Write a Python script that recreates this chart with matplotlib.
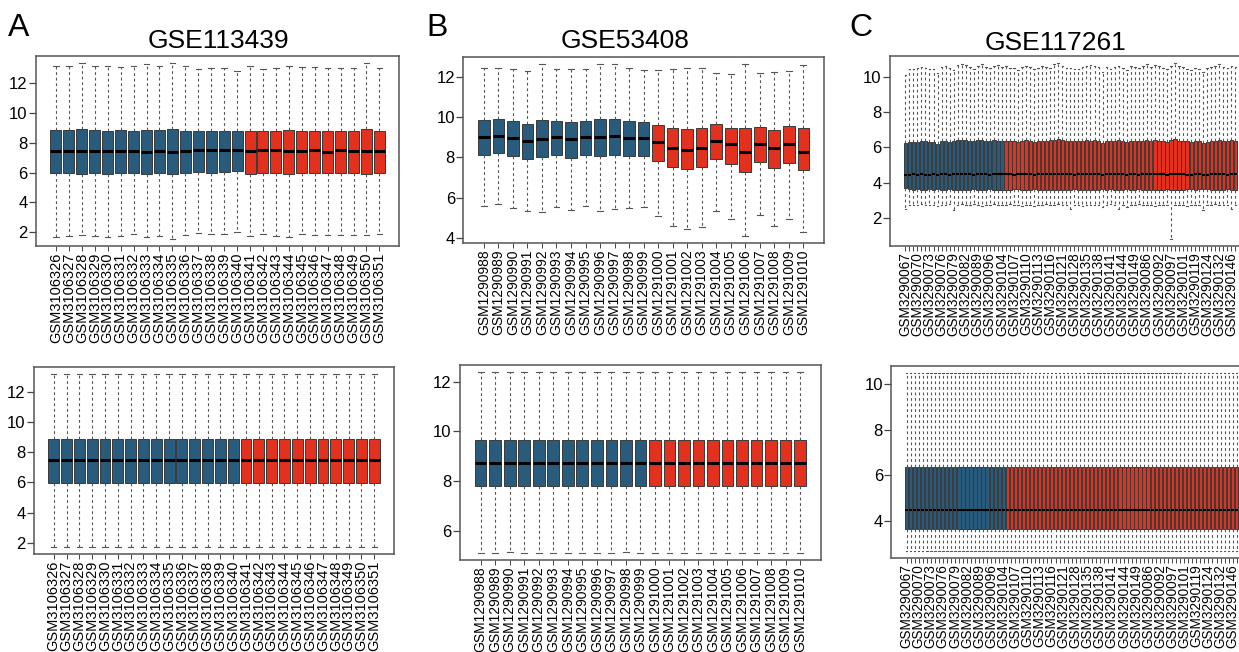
import matplotlib.pyplot as plt

plt.rcParams['font.family'] = ['Liberation Sans', 'DejaVu Sans']

BLUE = '#285b7c'
RED = '#e2311f'

# ---------------- A: GSE113439 (15 control, 11 case) ----------------
a_names = ['GSM3106326', 'GSM3106327', 'GSM3106328', 'GSM3106329', 'GSM3106330',
           'GSM3106331', 'GSM3106332', 'GSM3106333', 'GSM3106334', 'GSM3106335',
           'GSM3106336', 'GSM3106337', 'GSM3106338', 'GSM3106339', 'GSM3106340',
           'GSM3106341', 'GSM3106342', 'GSM3106343', 'GSM3106344', 'GSM3106345',
           'GSM3106346', 'GSM3106347', 'GSM3106348', 'GSM3106349', 'GSM3106350',
           'GSM3106351']
a_ctrl = 15
a_hi = [13.19, 13.16, 13.34, 13.14, 13.14, 13.10, 13.14, 13.30, 13.19, 13.36, 13.14, 12.94, 13.00,
        13.03, 12.85, 13.14, 12.94, 13.03, 13.19, 13.07, 13.07, 13.05, 13.05, 13.05, 13.34, 13.05]
a_q3 = [8.87, 8.87, 8.91, 8.85, 8.82, 8.85, 8.82, 8.89, 8.89, 8.94, 8.82, 8.78, 8.82,
        8.82, 8.78, 8.82, 8.78, 8.80, 8.85, 8.82, 8.82, 8.78, 8.82, 8.80, 8.91, 8.80]
a_med = [7.46, 7.46, 7.46, 7.46, 7.46, 7.46, 7.48, 7.41, 7.46, 7.41, 7.46, 7.53, 7.53,
         7.51, 7.53, 7.46, 7.51, 7.50, 7.46, 7.48, 7.50, 7.41, 7.53, 7.48, 7.46, 7.46]
a_q1 = [5.96, 5.98, 5.91, 5.96, 5.94, 5.96, 5.98, 5.91, 5.96, 5.94, 5.98, 6.05, 6.00,
        6.03, 6.09, 5.94, 6.00, 5.96, 5.94, 6.00, 5.98, 5.96, 5.98, 6.00, 5.91, 6.00]
a_lo = [1.71, 1.75, 1.80, 1.73, 1.66, 1.78, 1.87, 1.69, 1.73, 1.55, 1.80, 1.93, 1.87,
        1.87, 2.00, 1.78, 1.89, 1.75, 1.69, 1.87, 1.82, 1.80, 1.80, 1.80, 1.80, 1.87]
# normalized
a_norm_hi = [13.14] * 26
a_norm_q3 = [8.84] * 26
a_norm_med = [7.45] * 26
a_norm_q1 = [5.96] * 26
a_norm_lo = [1.74, 1.70, 1.74, 1.74, 1.70, 1.74, 1.74, 1.74, 1.74, 1.74, 1.74, 1.70, 1.74,
             1.74, 1.74, 1.74, 1.74, 1.70, 1.74, 1.74, 1.74, 1.74, 1.74, 1.74, 1.70, 1.74]

# ---------------- B: GSE53408 (12 control, 11 case) ----------------
b_names = ['GSM1290988', 'GSM1290989', 'GSM1290990', 'GSM1290991', 'GSM1290992',
           'GSM1290993', 'GSM1290994', 'GSM1290995', 'GSM1290996', 'GSM1290997',
           'GSM1290998', 'GSM1290999', 'GSM1291000', 'GSM1291001', 'GSM1291002',
           'GSM1291003', 'GSM1291004', 'GSM1291005', 'GSM1291006', 'GSM1291007',
           'GSM1291008', 'GSM1291009', 'GSM1291010']
b_ctrl = 12
b_hi = [12.40, 12.40, 12.35, 12.25, 12.61, 12.35, 12.38, 12.35, 12.61, 12.61, 12.44, 12.33,
        12.30, 12.36, 12.40, 12.41, 12.18, 12.13, 12.64, 12.18, 12.23, 12.25, 12.56]
b_q3 = [9.86, 9.88, 9.79, 9.66, 9.86, 9.81, 9.74, 9.81, 9.88, 9.89, 9.79, 9.76,
        9.60, 9.45, 9.38, 9.46, 9.65, 9.46, 9.43, 9.51, 9.37, 9.55, 9.45]
b_med = [9.02, 9.07, 8.95, 8.82, 8.91, 8.99, 8.91, 9.02, 8.99, 9.05, 8.95, 8.95,
         8.74, 8.46, 8.38, 8.46, 8.82, 8.63, 8.25, 8.66, 8.46, 8.63, 8.28]
b_q1 = [8.13, 8.20, 8.05, 7.92, 8.00, 8.12, 7.98, 8.12, 8.05, 8.12, 8.07, 8.07,
        7.80, 7.51, 7.39, 7.49, 7.92, 7.67, 7.26, 7.77, 7.47, 7.70, 7.34]
b_lo = [5.56, 5.70, 5.46, 5.33, 5.27, 5.55, 5.37, 5.58, 5.33, 5.42, 5.48, 5.53,
        5.10, 4.58, 4.44, 4.53, 5.35, 4.92, 4.07, 5.15, 4.61, 4.94, 4.31]
b_norm_hi = [12.39] * 23
b_norm_q3 = [9.66] * 23
b_norm_med = [8.74] * 23
b_norm_q1 = [7.81] * 23
b_norm_lo = [5.11, 5.11, 5.14, 5.11, 5.11, 5.11, 5.11, 5.11, 5.11, 5.11, 5.14, 5.11,
             5.11, 5.11, 5.11, 5.11, 5.11, 5.11, 5.11, 5.11, 5.11, 5.11, 5.11]

# ---------------- C: GSE117261 (25 control, 58 case) ----------------
c_ids = ['067', '068', '069', '070', '071', '072', '073', '074', '075', '076', '077', '078',
         '079', '080', '081', '082', '084', '087', '089', '091', '094', '096', '099', '102',
         '104',
         '105', '106', '107', '108', '109', '110', '111', '112', '113', '114', '115', '116',
         '117', '118', '121', '122', '125', '128', '129', '131', '135', '136', '137', '138',
         '139', '140', '141', '142', '143', '144', '145', '147', '149', '150', '083', '086',
         '088', '090', '092', '093', '095', '097', '098', '100', '101', '103', '120', '119',
         '123', '127', '124', '126', '130', '132', '133', '134', '146', '148']
c_names = ['GSM3290' + s for s in c_ids]
c_ctrl = 25
c_hi = [10.10, 10.42, 10.45, 10.50, 10.55, 10.48, 10.42, 10.45, 10.20, 10.55, 10.62, 10.50,
        10.40, 10.65, 10.70, 10.68, 10.55, 10.45, 10.62, 10.70, 10.55, 10.48, 10.60, 10.65,
        10.58,
        10.60, 10.52, 10.48, 10.40, 10.55, 10.62, 10.55, 10.45, 10.50, 10.62, 10.58, 10.50,
        10.70, 10.78, 10.60, 10.52, 10.50, 10.42, 10.45, 10.55, 10.62, 10.65, 10.62, 10.55,
        10.30, 10.58, 10.45, 10.55, 10.60, 10.52, 10.40, 10.60, 10.55, 10.48, 10.62, 10.70,
        10.58, 10.65, 10.60, 10.50, 10.45, 10.62, 10.78, 10.60, 10.55, 10.45, 10.38, 10.52,
        10.45, 10.30, 10.48, 10.55, 10.62, 10.70, 10.55, 10.50, 10.62, 10.58]
c_q3 = [6.22, 6.28, 6.30, 6.32, 6.35, 6.33, 6.30, 6.28, 6.20, 6.35, 6.38, 6.30,
        6.33, 6.40, 6.42, 6.40, 6.35, 6.38, 6.42, 6.40, 6.38, 6.35, 6.40, 6.38,
        6.36,
        6.35, 6.38, 6.33, 6.30, 6.38, 6.40, 6.36, 6.28, 6.35, 6.38, 6.36, 6.40,
        6.42, 6.45, 6.40, 6.36, 6.35, 6.33, 6.36, 6.38, 6.40, 6.38, 6.40, 6.38,
        6.25, 6.36, 6.33, 6.38, 6.42, 6.36, 6.30, 6.38, 6.36, 6.33, 6.38, 6.40,
        6.36, 6.42, 6.38, 6.35, 6.30, 6.40, 6.45, 6.38, 6.36, 6.33, 6.28, 6.35,
        6.33, 6.25, 6.30, 6.36, 6.38, 6.42, 6.35, 6.33, 6.40, 6.36]
c_med = [4.42, 4.45, 4.46, 4.45, 4.46, 4.44, 4.45, 4.47, 4.44, 4.46, 4.48, 4.45,
         4.46, 4.48, 4.47, 4.48, 4.46, 4.45, 4.48, 4.47, 4.46, 4.45, 4.47, 4.48,
         4.46,
         4.46, 4.48, 4.45, 4.46, 4.47, 4.48, 4.46, 4.45, 4.48, 4.47, 4.46, 4.48,
         4.47, 4.49, 4.48, 4.46, 4.47, 4.45, 4.46, 4.47, 4.48, 4.46, 4.47, 4.48,
         4.44, 4.46, 4.47, 4.48, 4.49, 4.47, 4.45, 4.47, 4.46, 4.45, 4.48, 4.47,
         4.46, 4.48, 4.47, 4.46, 4.45, 4.47, 4.49, 4.48, 4.46, 4.45, 4.44, 4.46,
         4.47, 4.44, 4.45, 4.46, 4.48, 4.47, 4.46, 4.45, 4.47, 4.46]
c_q1 = [3.68, 3.62, 3.60, 3.62, 3.58, 3.60, 3.62, 3.58, 3.66, 3.60, 3.57, 3.62,
        3.60, 3.58, 3.56, 3.58, 3.60, 3.62, 3.58, 3.57, 3.60, 3.62, 3.58, 3.57,
        3.60,
        3.60, 3.58, 3.62, 3.63, 3.58, 3.57, 3.60, 3.64, 3.58, 3.57, 3.60, 3.58,
        3.56, 3.55, 3.58, 3.60, 3.60, 3.62, 3.60, 3.58, 3.57, 3.58, 3.57, 3.58,
        3.65, 3.60, 3.62, 3.58, 3.56, 3.60, 3.63, 3.58, 3.60, 3.62, 3.58, 3.56,
        3.60, 3.57, 3.58, 3.60, 3.62, 3.57, 3.55, 3.58, 3.60, 3.62, 3.64, 3.60,
        3.62, 3.66, 3.63, 3.60, 3.58, 3.56, 3.60, 3.62, 3.57, 3.60]
c_lo = [2.48, 2.70, 2.75, 2.72, 2.78, 2.70, 2.75, 2.72, 2.68, 2.74, 2.70, 2.76,
        2.44, 2.70, 2.78, 2.74, 2.70, 2.76, 2.72, 2.68, 2.75, 2.70, 2.78, 2.72,
        2.74,
        2.72, 2.76, 2.70, 2.74, 2.68, 2.75, 2.72, 2.65, 2.74, 2.70, 2.76, 2.72,
        2.70, 2.78, 2.74, 2.70, 2.50, 2.74, 2.72, 2.68, 2.75, 2.72, 2.70, 2.74,
        2.62, 2.72, 2.76, 2.70, 2.48, 2.74, 2.60, 2.72, 2.70, 2.76, 2.72, 2.70,
        2.74, 2.68, 2.72, 2.70, 2.75, 0.80, 2.72, 2.70, 2.74, 2.68, 2.72, 2.70,
        2.74, 2.44, 2.70, 2.72, 2.76, 2.70, 2.74, 2.72, 2.48, 2.70]
c_norm_hi = [10.47] * 83
c_norm_q3 = [6.36] * 83
c_norm_med = [4.47] * 83
c_norm_q1 = [3.64] * 83
c_norm_lo = [2.69] * 83


def draw(rect, names, ctrl, lo, q1, med, q3, hi, yticks, width, lab_fs, step=1, med_lw=2.2):
    ax = fig.add_axes(rect)
    n = len(names)
    stats = [dict(whislo=lo[i], q1=q1[i], med=med[i], q3=q3[i], whishi=hi[i], fliers=[])
             for i in range(n)]
    bp = ax.bxp(stats, positions=range(1, n + 1), widths=width, patch_artist=True,
                showfliers=False, manage_ticks=False,
                boxprops=dict(edgecolor='#3a3a3a', linewidth=0.7),
                medianprops=dict(color='black', linewidth=med_lw, solid_capstyle='butt'),
                whiskerprops=dict(color='#555555', linewidth=0.8, linestyle=(0, (2.5, 2.5))),
                capprops=dict(color='#555555', linewidth=0.8))
    for i, b in enumerate(bp['boxes']):
        b.set_facecolor(BLUE if i < ctrl else RED)
    pad = 0.04 * n
    ax.set_xlim(0.5 - pad, n + 0.5 + pad)
    rng = max(hi) - min(lo)
    ax.set_ylim(min(lo) - 0.04 * rng, max(hi) + 0.04 * rng)
    ax.set_xticks(range(1, n + 1))
    ax.set_xticklabels([nm if i % step == 0 else '' for i, nm in enumerate(names)],
                       rotation=90, fontsize=lab_fs)
    ax.set_yticks(yticks)
    ax.set_yticklabels([str(t) for t in yticks], fontsize=12)
    ax.tick_params(axis='y', direction='out', length=5, width=0.9, pad=1, color='#444444')
    ax.tick_params(axis='x', direction='out', length=3.5, width=0.7, pad=1, color='#444444')
    for s in ax.spines.values():
        s.set_color('#555555')
        s.set_linewidth(1.1)
    return ax


fig = plt.figure(figsize=(12.39, 6.52), dpi=100)

draw([0.0291, 0.6227, 0.2932, 0.2914], a_names, a_ctrl, a_lo, a_q1, a_med, a_q3, a_hi,
     [2, 4, 6, 8, 10, 12], 0.85, 10.5)
draw([0.0274, 0.1498, 0.2906, 0.2868], a_names, a_ctrl, a_norm_lo, a_norm_q1, a_norm_med,
     a_norm_q3, a_norm_hi, [2, 4, 6, 8, 10, 12], 0.85, 10.5)
draw([0.3739, 0.6268, 0.2911, 0.2862], b_names, b_ctrl, b_lo, b_q1, b_med, b_q3, b_hi,
     [4, 6, 8, 10, 12], 0.8, 10)
draw([0.3713, 0.1411, 0.2911, 0.2991], b_names, b_ctrl, b_norm_lo, b_norm_q1, b_norm_med,
     b_norm_q3, b_norm_hi, [6, 8, 10, 12], 0.8, 10)
draw([0.7183, 0.6227, 0.2912, 0.2914], c_names, c_ctrl, c_lo, c_q1, c_med, c_q3, c_hi,
     [2, 4, 6, 8, 10], 0.8, 9.8, step=3, med_lw=1.5)
draw([0.7193, 0.1437, 0.2912, 0.2949], c_names, c_ctrl, c_norm_lo, c_norm_q1, c_norm_med,
     c_norm_q3, c_norm_hi, [4, 6, 8, 10], 0.8, 9.8, step=3, med_lw=1.5)

# panel titles and letters
fig.text(218 / 1239, 1 - 48 / 652, 'GSE113439', ha='center', va='baseline', fontsize=19)
fig.text(625 / 1239, 1 - 48 / 652, 'GSE53408', ha='center', va='baseline', fontsize=19)
fig.text(1055 / 1239, 1 - 50 / 652, 'GSE117261', ha='center', va='baseline', fontsize=19)
fig.text(8 / 1239, 1 - 36 / 652, 'A', ha='left', va='baseline', fontsize=23)
fig.text(426 / 1239, 1 - 36 / 652, 'B', ha='left', va='baseline', fontsize=23)
fig.text(849 / 1239, 1 - 36 / 652, 'C', ha='left', va='baseline', fontsize=23)

fig.savefig('out.png', dpi=100)
